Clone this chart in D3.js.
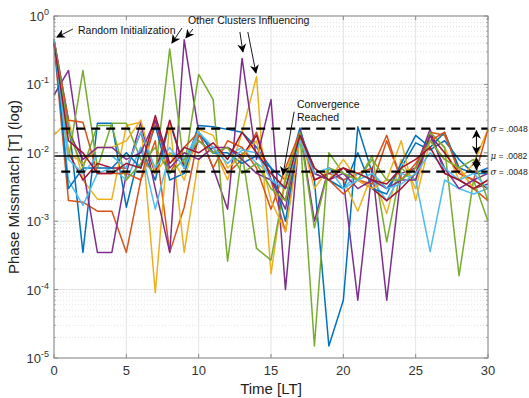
<!DOCTYPE html>
<html>
<head>
<meta charset="utf-8">
<script src="https://cdn.jsdelivr.net/npm/d3@7"></script>
<style>
  body { margin: 0; background: #fff; }
  svg { font-family: "Liberation Sans", Arial, sans-serif; }
</style>
</head>
<body>
<div id="chart"></div>
<script>
// time steps 0..30
const times = d3.range(0, 31);
const xTicks = [0, 5, 10, 15, 20, 25, 30];
const yTickExps = [0, -1, -2, -3, -4, -5];

const lineColors = ["#0072BD", "#D95319", "#EDB120", "#7E2F8E", "#77AC30", "#4DBEEE", "#A2142F"];

// phase mismatch per run
const s1  = [0.45, 0.03, 0.00035, 0.027, 0.027, 0.0016, 0.012, 0.004, 0.028, 0.006, 0.025, 0.024, 0.022, 0.02, 0.012, 0.006, 0.004, 0.023, 0.004, 0.000015, 0.00007, 0.024, 0.005, 0.003, 0.006, 0.014, 0.011, 0.015, 0.008, 0.005, 0.006];
const s2  = [0.4, 0.002, 0.0019, 0.0014, 0.0014, 0.00035, 0.004, 0.015, 0.00035, 0.0016, 0.018, 0.012, 0.005, 0.008, 0.02, 0.004, 0.0007, 0.02, 0.004, 0.005, 0.004, 0.005, 0.006, 0.018, 0.004, 0.006, 0.02, 0.018, 0.006, 0.003, 0.002];
const s3  = [0.018, 0.03, 0.004, 0.0021, 0.0021, 0.025, 0.028, 0.00009, 0.028, 0.00035, 0.008, 0.012, 0.004, 0.02, 0.13, 0.00017, 0.005, 0.02, 0.003, 0.006, 0.004, 0.0014, 0.005, 0.0013, 0.008, 0.003, 0.02, 0.012, 0.004, 0.007, 0.022];
const s4  = [0.07, 0.16, 0.006, 0.00035, 0.00035, 0.005, 0.028, 0.003, 0.00035, 0.45, 0.02, 0.006, 0.0015, 0.24, 0.008, 0.06, 0.0001, 0.022, 0.001, 0.006, 0.004, 0.00007, 0.006, 0.00007, 0.005, 0.006, 0.022, 0.005, 0.004, 0.003, 0.0035];
const s5  = [0.45, 0.008, 0.16, 0.006, 0.027, 0.027, 0.008, 0.005, 0.33, 0.006, 0.14, 0.06, 0.00026, 0.01, 0.0004, 0.00027, 0.004, 0.02, 0.000015, 0.01, 0.005, 0.004, 0.009, 0.0005, 0.006, 0.004, 0.02, 0.012, 0.00016, 0.004, 0.001];
const s6  = [0.45, 0.004, 0.0017, 0.005, 0.006, 0.004, 0.012, 0.0015, 0.01, 0.008, 0.02, 0.01, 0.009, 0.012, 0.007, 0.005, 0.003, 0.018, 0.005, 0.004, 0.003, 0.005, 0.004, 0.002, 0.005, 0.004, 0.00036, 0.004, 0.003, 0.0025, 0.003];
const s7  = [0.4, 0.01, 0.004, 0.007, 0.006, 0.006, 0.02, 0.005, 0.03, 0.006, 0.015, 0.01, 0.012, 0.009, 0.018, 0.004, 0.002, 0.02, 0.004, 0.005, 0.006, 0.004, 0.003, 0.002, 0.003, 0.005, 0.018, 0.01, 0.005, 0.004, 0.003];
const s8  = [0.45, 0.003, 0.006, 0.006, 0.006, 0.01, 0.006, 0.025, 0.004, 0.005, 0.02, 0.01, 0.01, 0.007, 0.009, 0.006, 0.001, 0.02, 0.006, 0.004, 0.003, 0.01, 0.003, 0.0025, 0.007, 0.018, 0.012, 0.02, 0.006, 0.005, 0.005];
const s9  = [0.45, 0.03, 0.028, 0.005, 0.005, 0.005, 0.004, 0.03, 0.005, 0.012, 0.02, 0.006, 0.015, 0.012, 0.006, 0.0015, 0.006, 0.02, 0.005, 0.004, 0.0025, 0.004, 0.0035, 0.015, 0.004, 0.007, 0.015, 0.02, 0.005, 0.004, 0.022];
const s10 = [0.45, 0.01, 0.007, 0.012, 0.012, 0.015, 0.03, 0.005, 0.01, 0.004, 0.022, 0.018, 0.006, 0.009, 0.015, 0.002, 0.0007, 0.015, 0.006, 0.004, 0.008, 0.004, 0.003, 0.004, 0.015, 0.002, 0.015, 0.008, 0.006, 0.003, 0.004];
const s11 = [0.45, 0.02, 0.008, 0.012, 0.012, 0.008, 0.01, 0.03, 0.006, 0.01, 0.008, 0.012, 0.012, 0.008, 0.005, 0.004, 0.0015, 0.02, 0.005, 0.004, 0.005, 0.003, 0.004, 0.003, 0.004, 0.004, 0.018, 0.006, 0.003, 0.004, 0.005];
const s12 = [0.45, 0.02, 0.006, 0.025, 0.025, 0.004, 0.007, 0.012, 0.005, 0.008, 0.015, 0.01, 0.012, 0.005, 0.007, 0.003, 0.002, 0.02, 0.0008, 0.006, 0.005, 0.004, 0.008, 0.004, 0.004, 0.006, 0.015, 0.008, 0.006, 0.008, 0.002];
const s13 = [0.45, 0.008, 0.005, 0.009, 0.009, 0.006, 0.02, 0.006, 0.012, 0.006, 0.02, 0.012, 0.007, 0.011, 0.01, 0.004, 0.003, 0.015, 0.005, 0.006, 0.003, 0.004, 0.005, 0.003, 0.0035, 0.005, 0.01, 0.006, 0.004, 0.005, 0.003];
const s14 = [0.4, 0.015, 0.01, 0.005, 0.005, 0.007, 0.006, 0.035, 0.007, 0.012, 0.01, 0.014, 0.008, 0.02, 0.01, 0.005, 0.003, 0.018, 0.006, 0.004, 0.006, 0.005, 0.004, 0.0035, 0.006, 0.008, 0.012, 0.005, 0.004, 0.003, 0.004];
const series = [s1, s2, s3, s4, s5, s6, s7, s8, s9, s10, s11, s12, s13, s14];

// mean and +/- sigma bands
const refValues = [0.0225, 0.0090, 0.0053];
const refLabels = ["σ = .0048", "μ = .0082", "σ = .0048"];

const width = 529, height = 398;
const margin = {top: 16, right: 41, bottom: 40, left: 54};
const w = width - margin.left - margin.right;
const h = height - margin.top - margin.bottom;

const svg = d3.select("#chart").append("svg")
  .attr("width", width)
  .attr("height", height);

const defs = svg.append("defs");
defs.append("marker")
  .attr("id", "head")
  .attr("viewBox", "0 0 10 10")
  .attr("refX", 9).attr("refY", 5)
  .attr("markerWidth", 9).attr("markerHeight", 9)
  .attr("markerUnits", "userSpaceOnUse")
  .attr("orient", "auto-start-reverse")
  .append("path")
  .attr("d", "M0,0 L10,5 L0,10 L3,5 Z")
  .attr("fill", "#000");

const x = d3.scaleLinear().domain([0, 30]).range([0, w]);
const y = d3.scaleLog().domain([1e-5, 1]).range([h, 0]);

const g = svg.append("g")
  .attr("transform", `translate(${margin.left},${margin.top})`);

// minor grid (dotted)
const minor = [];
for (let e = -5; e < 0; e++) {
  for (let k = 2; k <= 9; k++) minor.push(k * Math.pow(10, e));
}
g.append("g").selectAll("line").data(minor).enter().append("line")
  .attr("x1", 0).attr("x2", w)
  .attr("y1", d => y(d)).attr("y2", d => y(d))
  .attr("stroke", "#d6d6d6").attr("stroke-width", 0.7)
  .attr("stroke-dasharray", "1,2");

// major grid
g.append("g").selectAll("line").data(yTickExps).enter().append("line")
  .attr("x1", 0).attr("x2", w)
  .attr("y1", d => y(Math.pow(10, d))).attr("y2", d => y(Math.pow(10, d)))
  .attr("stroke", "#e3e3e3").attr("stroke-width", 1);
g.append("g").selectAll("line").data(xTicks).enter().append("line")
  .attr("x1", d => x(d)).attr("x2", d => x(d))
  .attr("y1", 0).attr("y2", h)
  .attr("stroke", "#e3e3e3").attr("stroke-width", 1);

// data lines
const line = d3.line()
  .x((d, i) => x(times[i]))
  .y(d => y(d));

g.append("g").selectAll("path").data(series).enter().append("path")
  .attr("d", line)
  .attr("fill", "none")
  .attr("stroke", (d, i) => lineColors[i % lineColors.length])
  .attr("stroke-width", 1.5)
  .attr("stroke-linejoin", "round");

// reference lines
g.append("g").selectAll("line").data(refValues).enter().append("line")
  .attr("x1", (d, i) => i === 1 ? 0 : x(0.5))
  .attr("x2", w)
  .attr("y1", d => y(d)).attr("y2", d => y(d))
  .attr("stroke", "#000")
  .attr("stroke-width", (d, i) => i === 1 ? 1.5 : 2.2)
  .attr("stroke-dasharray", (d, i) => i === 1 ? null : "9,6");

// double arrows between the bands
const arrowX = x(29.2);
[[0, 1], [1, 2]].forEach(([a, b]) => {
  g.append("line")
    .attr("x1", arrowX).attr("x2", arrowX)
    .attr("y1", y(refValues[a]) + 2).attr("y2", y(refValues[b]) - 2)
    .attr("stroke", "#000").attr("stroke-width", 1)
    .attr("marker-start", "url(#head)")
    .attr("marker-end", "url(#head)");
});

// band labels
g.append("g").selectAll("text").data(refLabels).enter().append("text")
  .attr("x", w + 2.5)
  .attr("y", (d, i) => y(refValues[i]) + 3.5)
  .attr("font-size", 8.6)
  .attr("fill", "#222")
  .each(function(d) {
    const t = d3.select(this);
    t.append("tspan").attr("font-family", "'DejaVu Serif', serif").attr("font-style", "italic").text(d.slice(0, 1));
    t.append("tspan").text(d.slice(1));
  });

// box
g.append("rect")
  .attr("width", w).attr("height", h)
  .attr("fill", "none").attr("stroke", "#8a8a8a").attr("stroke-width", 1);

// ticks (inward, both sides)
const tickCol = "#8a8a8a";
xTicks.forEach(t => {
  g.append("line").attr("x1", x(t)).attr("x2", x(t)).attr("y1", h).attr("y2", h - 4).attr("stroke", tickCol);
  g.append("line").attr("x1", x(t)).attr("x2", x(t)).attr("y1", 0).attr("y2", 4).attr("stroke", tickCol);
});
yTickExps.forEach(e => {
  const yy = y(Math.pow(10, e));
  g.append("line").attr("x1", 0).attr("x2", 4).attr("y1", yy).attr("y2", yy).attr("stroke", tickCol);
  g.append("line").attr("x1", w).attr("x2", w - 4).attr("y1", yy).attr("y2", yy).attr("stroke", tickCol);
});
minor.forEach(v => {
  g.append("line").attr("x1", 0).attr("x2", 2).attr("y1", y(v)).attr("y2", y(v)).attr("stroke", tickCol).attr("stroke-width", 0.6);
  g.append("line").attr("x1", w).attr("x2", w - 2).attr("y1", y(v)).attr("y2", y(v)).attr("stroke", tickCol).attr("stroke-width", 0.6);
});

// tick labels
g.append("g").selectAll("text").data(xTicks).enter().append("text")
  .attr("x", d => x(d)).attr("y", h + 17)
  .attr("text-anchor", "middle")
  .attr("font-size", 13).attr("fill", "#333")
  .text(d => d);

g.append("g").selectAll("text").data(yTickExps).enter().append("text")
  .attr("x", -5).attr("y", d => y(Math.pow(10, d)) + 5)
  .attr("text-anchor", "end")
  .attr("font-size", 13).attr("fill", "#333")
  .each(function(d) {
    const t = d3.select(this);
    t.append("tspan").text("10");
    t.append("tspan").attr("font-size", 9).attr("dy", -6).text(d === 0 ? "0" : "-" + Math.abs(d));
  });

// axis labels
svg.append("text")
  .attr("x", margin.left + w / 2).attr("y", height - 4)
  .attr("text-anchor", "middle")
  .attr("font-size", 15).attr("fill", "#222")
  .text("Time [LT]");

svg.append("text")
  .attr("transform", `translate(19,${margin.top + h / 2}) rotate(-90)`)
  .attr("text-anchor", "middle")
  .attr("font-size", 15).attr("fill", "#222")
  .text("Phase Missmatch [T] (log)");

// annotations (in data coordinates)
const notes = [
  {text: ["Random Initialization"], t: 1.66, v: Math.pow(10, -0.26)},
  {text: ["Other Clusters Influencing"], t: 9.26, v: Math.pow(10, -0.115)},
  {text: ["Convergence", "Reached"], t: 16.8, v: Math.pow(10, -1.34)}
];
const arrows = [
  [1.31, -0.19, 0.2, -0.31],
  [8.85, -0.175, 8.15, -0.395],
  [9.6, -0.19, 9.12, -0.32],
  [12.85, -0.234, 13.06, -0.526],
  [13.4, -0.234, 13.96, -0.833],
  [16.6, -1.4, 15.83, -2.32]
];

notes.forEach(n => {
  const t = g.append("text")
    .attr("x", x(n.t)).attr("y", y(n.v))
    .attr("font-size", 10.5).attr("fill", "#111");
  n.text.forEach((s, i) => {
    t.append("tspan").attr("x", x(n.t)).attr("dy", i === 0 ? 0 : 13).text(s);
  });
});

g.append("g").selectAll("line").data(arrows).enter().append("line")
  .attr("x1", d => x(d[0])).attr("y1", d => y(Math.pow(10, d[1])))
  .attr("x2", d => x(d[2])).attr("y2", d => y(Math.pow(10, d[3])))
  .attr("stroke", "#000").attr("stroke-width", 0.9)
  .attr("marker-end", "url(#head)");
</script>
</body>
</html>
